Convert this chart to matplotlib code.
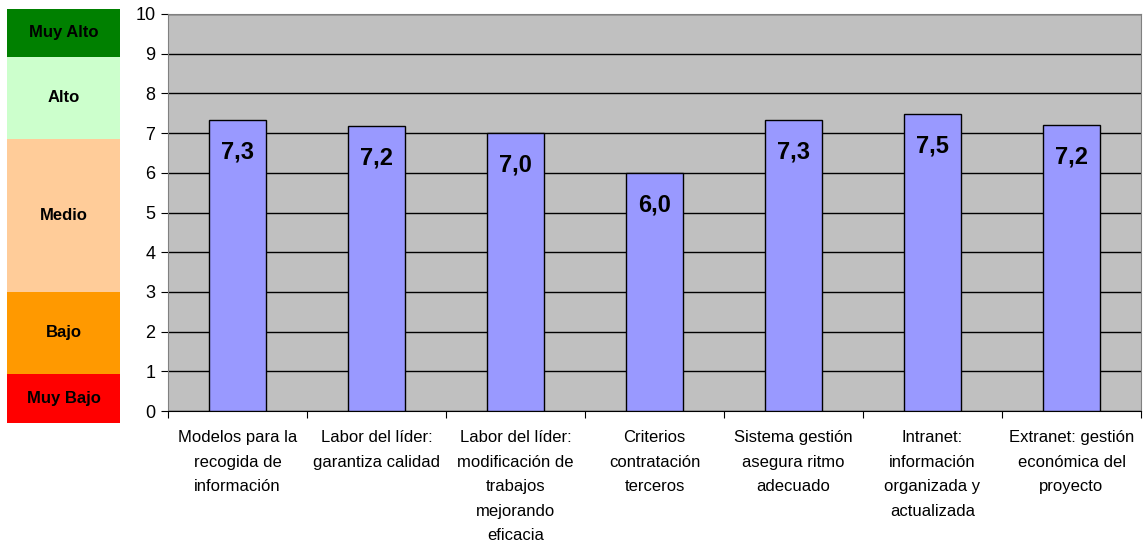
import matplotlib.pyplot as plt
import numpy as np

plt.rcParams['font.family'] = ['Liberation Sans', 'DejaVu Sans']

# data
categories = ['Modelos para la\nrecogida de\ninformación',
              'Labor del líder:\ngarantiza calidad',
              'Labor del líder:\nmodificación de\ntrabajos\nmejorando\neficacia',
              'Criterios\ncontratación\nterceros',
              'Sistema gestión\nasegura ritmo\nadecuado',
              'Intranet:\ninformación\norganizada y\nactualizada',
              'Extranet: gestión\neconómica del\nproyecto']
values = [7.33, 7.17, 7.0, 6.0, 7.33, 7.48, 7.2]
value_labels = ['7,3', '7,2', '7,0', '6,0', '7,3', '7,5', '7,2']

# side scale legend (bottom to top), band heights in panel units
band_names = ['Muy Bajo', 'Bajo', 'Medio', 'Alto', 'Muy Alto']
band_heights = [49, 82, 153, 82, 48]
band_colors = ['#FF0000', '#FF9900', '#FFCC99', '#CCFFCC', '#008000']

fig = plt.figure(figsize=(11.44, 5.42), dpi=100)

# --- scale panel on the left
pax = fig.add_axes([7 / 1144, (542 - 423) / 542, 113 / 1144, 414 / 542])
bottoms = np.concatenate([[0], np.cumsum(band_heights)[:-1]])
pax.bar(0, band_heights, bottom=bottoms, width=1, color=band_colors, edgecolor='none')
for name, b, h in zip(band_names, bottoms, band_heights):
    pax.text(0, b + h / 2, name, ha='center', va='center', fontsize=12, fontweight='bold')
pax.set_xlim(-0.5, 0.5)
pax.set_ylim(0, sum(band_heights))
pax.axis('off')

# --- main bar chart
ax = fig.add_axes([168 / 1144, (542 - 411) / 542, 973 / 1144, 397 / 542])
ax.set_facecolor('#C0C0C0')
x = np.arange(len(categories))
ax.bar(x, values, width=0.41, color='#9999FF', edgecolor='black', linewidth=1, zorder=3)
for xi, v, lab in zip(x, values, value_labels):
    ax.text(xi, v - 0.8, lab, ha='center', va='center', fontsize=17, fontweight='bold', zorder=4)

ax.set_xlim(-0.5, len(categories) - 0.5)
ax.set_ylim(0, 10)
ax.set_yticks(range(0, 11))
ax.tick_params(axis='y', labelsize=13, length=5, direction='out', pad=4)
ax.yaxis.grid(True, color='black', linewidth=1)
ax.set_axisbelow(True)

ax.set_xticks(np.arange(-0.5, len(categories), 1))
ax.set_xticklabels([])
ax.set_xticks(x, minor=True)
ax.set_xticklabels(categories, minor=True, fontsize=12, linespacing=1.78, va='top')
ax.tick_params(axis='x', which='major', length=5, direction='out')
ax.tick_params(axis='x', which='minor', length=0, pad=14)

for s in ['top', 'right', 'left']:
    ax.spines[s].set_color('#808080')
ax.spines['bottom'].set_color('black')

fig.savefig('out.png', dpi=100)
